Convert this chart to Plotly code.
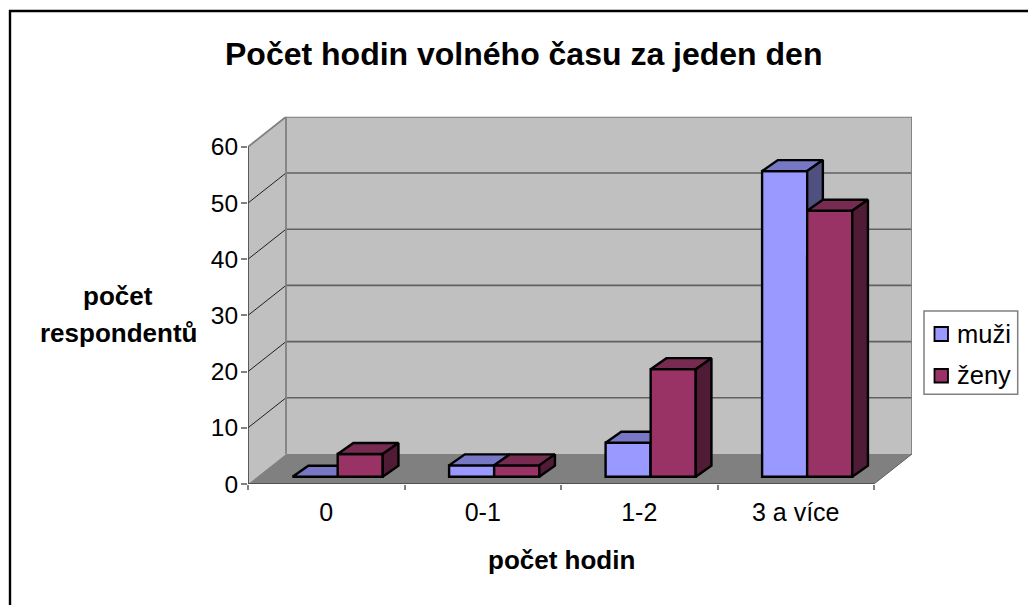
import plotly.graph_objects as go

categories = ["0", "0-1", "1-2", "3 a více"]
muzi = [0, 2, 6, 54]
zeny = [4, 2, 19, 47]
y_ticks = [0, 10, 20, 30, 40, 50, 60]

W, H = 1028, 605
L, R, T, B = 248.0, 912.0, 116.7, 484.0
X_UNIT = 156.5
Y_UNIT = 5.62
WALL_DX = 38 / X_UNIT
WALL_DY = 30 / Y_UNIT
BAR_DX = 15.7 / X_UNIT
BAR_DY = 11 / Y_UNIT
BAR_BASE = 7.3 / Y_UNIT
BAR_SCALE = 1.007
BAR_W = 0.288
BAR_LINE = 2.4
N = len(categories)
Y_MAX = 60

fig = go.Figure()


def poly(xs, ys, fill, line="rgba(0,0,0,0)", width=0, ax=("x", "y")):
    fig.add_trace(go.Scatter(
        x=xs, y=ys, mode="lines", fill="toself", fillcolor=fill, xaxis=ax[0], yaxis=ax[1],
        line=dict(color=line, width=width), hoverinfo="skip", showlegend=False, cliponaxis=False))


def seg(xs, ys, color, width):
    fig.add_trace(go.Scatter(
        x=xs, y=ys, mode="lines", line=dict(color=color, width=width),
        hoverinfo="skip", showlegend=False, cliponaxis=False))


poly([0, WALL_DX, WALL_DX, 0, 0], [0, WALL_DY, Y_MAX + WALL_DY, Y_MAX, 0], "#C0C0C0")
poly([WALL_DX, N + WALL_DX, N + WALL_DX, WALL_DX, WALL_DX],
     [WALL_DY, WALL_DY, Y_MAX + WALL_DY, Y_MAX + WALL_DY, WALL_DY], "#C0C0C0")
poly([0, N, N + WALL_DX, WALL_DX, 0], [0, 0, WALL_DY, WALL_DY, 0], "#808080")

for v in y_ticks[1:-1]:
    seg([0, WALL_DX], [v, v + WALL_DY], "#202020", 1)
    seg([WALL_DX, N + WALL_DX], [v + WALL_DY, v + WALL_DY], "#606060", 1.6)
seg([0, WALL_DX, N + WALL_DX, N + WALL_DX],
    [Y_MAX, Y_MAX + WALL_DY, Y_MAX + WALL_DY, WALL_DY], "#808080", 1.8)
seg([WALL_DX, WALL_DX], [WALL_DY, Y_MAX + WALL_DY], "#808080", 1.8)
seg([N, N + WALL_DX], [0, WALL_DY], "#606060", 1)
seg([0, 0], [0, Y_MAX], "#404040", 1.6)
seg([0, N], [0, 0], "#404040", 1.6)


def bar_series(vals, offset, name, front, top, side, ax):
    bx, by = [], []
    for i, v in enumerate(vals):
        h = v * BAR_SCALE
        x0 = i + offset
        x1 = x0 + BAR_W
        y0 = BAR_BASE
        y1 = BAR_BASE + h
        poly([x0, x1, x1 + BAR_DX, x0 + BAR_DX, x0],
             [y1, y1, y1 + BAR_DY, y1 + BAR_DY, y1], top, "black", BAR_LINE, ax)
        poly([x1, x1 + BAR_DX, x1 + BAR_DX, x1, x1],
             [y0, y0 + BAR_DY, y1 + BAR_DY, y1, y0], side, "black", BAR_LINE, ax)
        bx.append(x0 + BAR_W / 2)
        by.append(h)
    fig.add_trace(go.Bar(
        x=bx, y=by, base=BAR_BASE, width=BAR_W, name=name, xaxis=ax[0], yaxis=ax[1],
        marker=dict(color=front, line=dict(color="black", width=BAR_LINE)),
        customdata=vals, hovertemplate=name + ": %{customdata}<extra></extra>",
        showlegend=False, cliponaxis=False))


bar_series(muzi, 0.285, "muži", "#9999FF", "#7777C4", "#4F4F80", ("x2", "y2"))
bar_series(zeny, 0.573, "ženy", "#993366", "#772B50", "#4F1B35", ("x3", "y3"))

x_dom = [L / W, R / W]
y_dom = [1 - B / H, 1 - T / H]
x_rng = [0, (R - L) / X_UNIT]
y_rng = [0, (B - T) / Y_UNIT]


def hidden_x(anchor):
    return dict(domain=x_dom, range=x_rng, overlaying="x", anchor=anchor, visible=False, automargin=False)


def hidden_y(anchor):
    return dict(domain=y_dom, range=y_rng, overlaying="y", anchor=anchor, visible=False, automargin=False)


def note(text, x, y, size, anchor="center"):
    return dict(text=text, xref="paper", yref="paper", x=x / W, y=1 - y / H, xanchor=anchor,
                yanchor="middle", showarrow=False, font=dict(size=size, color="black"))


fig.update_layout(
    template="none",
    width=W, height=H, autosize=False,
    margin=dict(l=0, r=0, t=0, b=0, autoexpand=False),
    paper_bgcolor="white", plot_bgcolor="rgba(0,0,0,0)",
    font=dict(family="Liberation Sans, Arial, sans-serif", color="black"),
    showlegend=False, barmode="overlay",
    xaxis=dict(
        domain=x_dom, range=x_rng, automargin=False,
        tickmode="array", tickvals=[i + 0.5 for i in range(N)], ticktext=categories,
        ticks="", showgrid=False, zeroline=False, showline=False,
        tickfont=dict(size=25), ticklabelstandoff=11,
        minor=dict(tickmode="array", tickvals=list(range(N + 1)), ticks="outside",
                   ticklen=5, tickwidth=1.6, tickcolor="#808080", showgrid=False),
    ),
    yaxis=dict(
        domain=y_dom, range=y_rng, automargin=False,
        tickmode="array", tickvals=y_ticks, ticks="outside", ticklen=6,
        tickwidth=1.6, tickcolor="#808080", showgrid=False, zeroline=False,
        showline=False, tickfont=dict(size=24.5), ticklabelstandoff=-2,
    ),
    xaxis2=hidden_x("y2"), yaxis2=hidden_y("x2"),
    xaxis3=hidden_x("y3"), yaxis3=hidden_y("x3"),
    shapes=[
        dict(type="line", xref="paper", yref="paper", x0=10 / W, x1=10 / W, y0=0, y1=1 - 10 / H,
             line=dict(color="black", width=2.4)),
        dict(type="line", xref="paper", yref="paper", x0=9 / W, x1=1, y0=1 - 11 / H, y1=1 - 11 / H,
             line=dict(color="black", width=2.4)),
        dict(type="rect", xref="paper", yref="paper", x0=924 / W, x1=1017.7 / W,
             y0=1 - 394.3 / H, y1=1 - 311 / H, line=dict(color="#808080", width=1.5),
             fillcolor="white"),
        dict(type="rect", xref="paper", yref="paper", x0=934.5 / W, x1=948 / W,
             y0=1 - 341 / H, y1=1 - 327 / H, line=dict(color="black", width=1.8),
             fillcolor="#9999FF"),
        dict(type="rect", xref="paper", yref="paper", x0=934.5 / W, x1=948 / W,
             y0=1 - 382.5 / H, y1=1 - 369 / H, line=dict(color="black", width=1.8),
             fillcolor="#993366"),
    ],
    annotations=[
        note("<b>Počet hodin volného času za jeden den</b>", 523.5, 54, 32),
        note("<b>počet</b>", 118, 296, 26),
        note("<b>respondentů</b>", 118, 333, 26),
        note("<b>počet hodin</b>", 561, 560, 26),
        note("muži", 955, 334, 25.5, "left"),
        note("ženy", 955, 375, 25.5, "left"),
    ],
)

fig.write_html("out.html", config={"displayModeBar": False},
               post_script="document.body.style.margin='0';")
